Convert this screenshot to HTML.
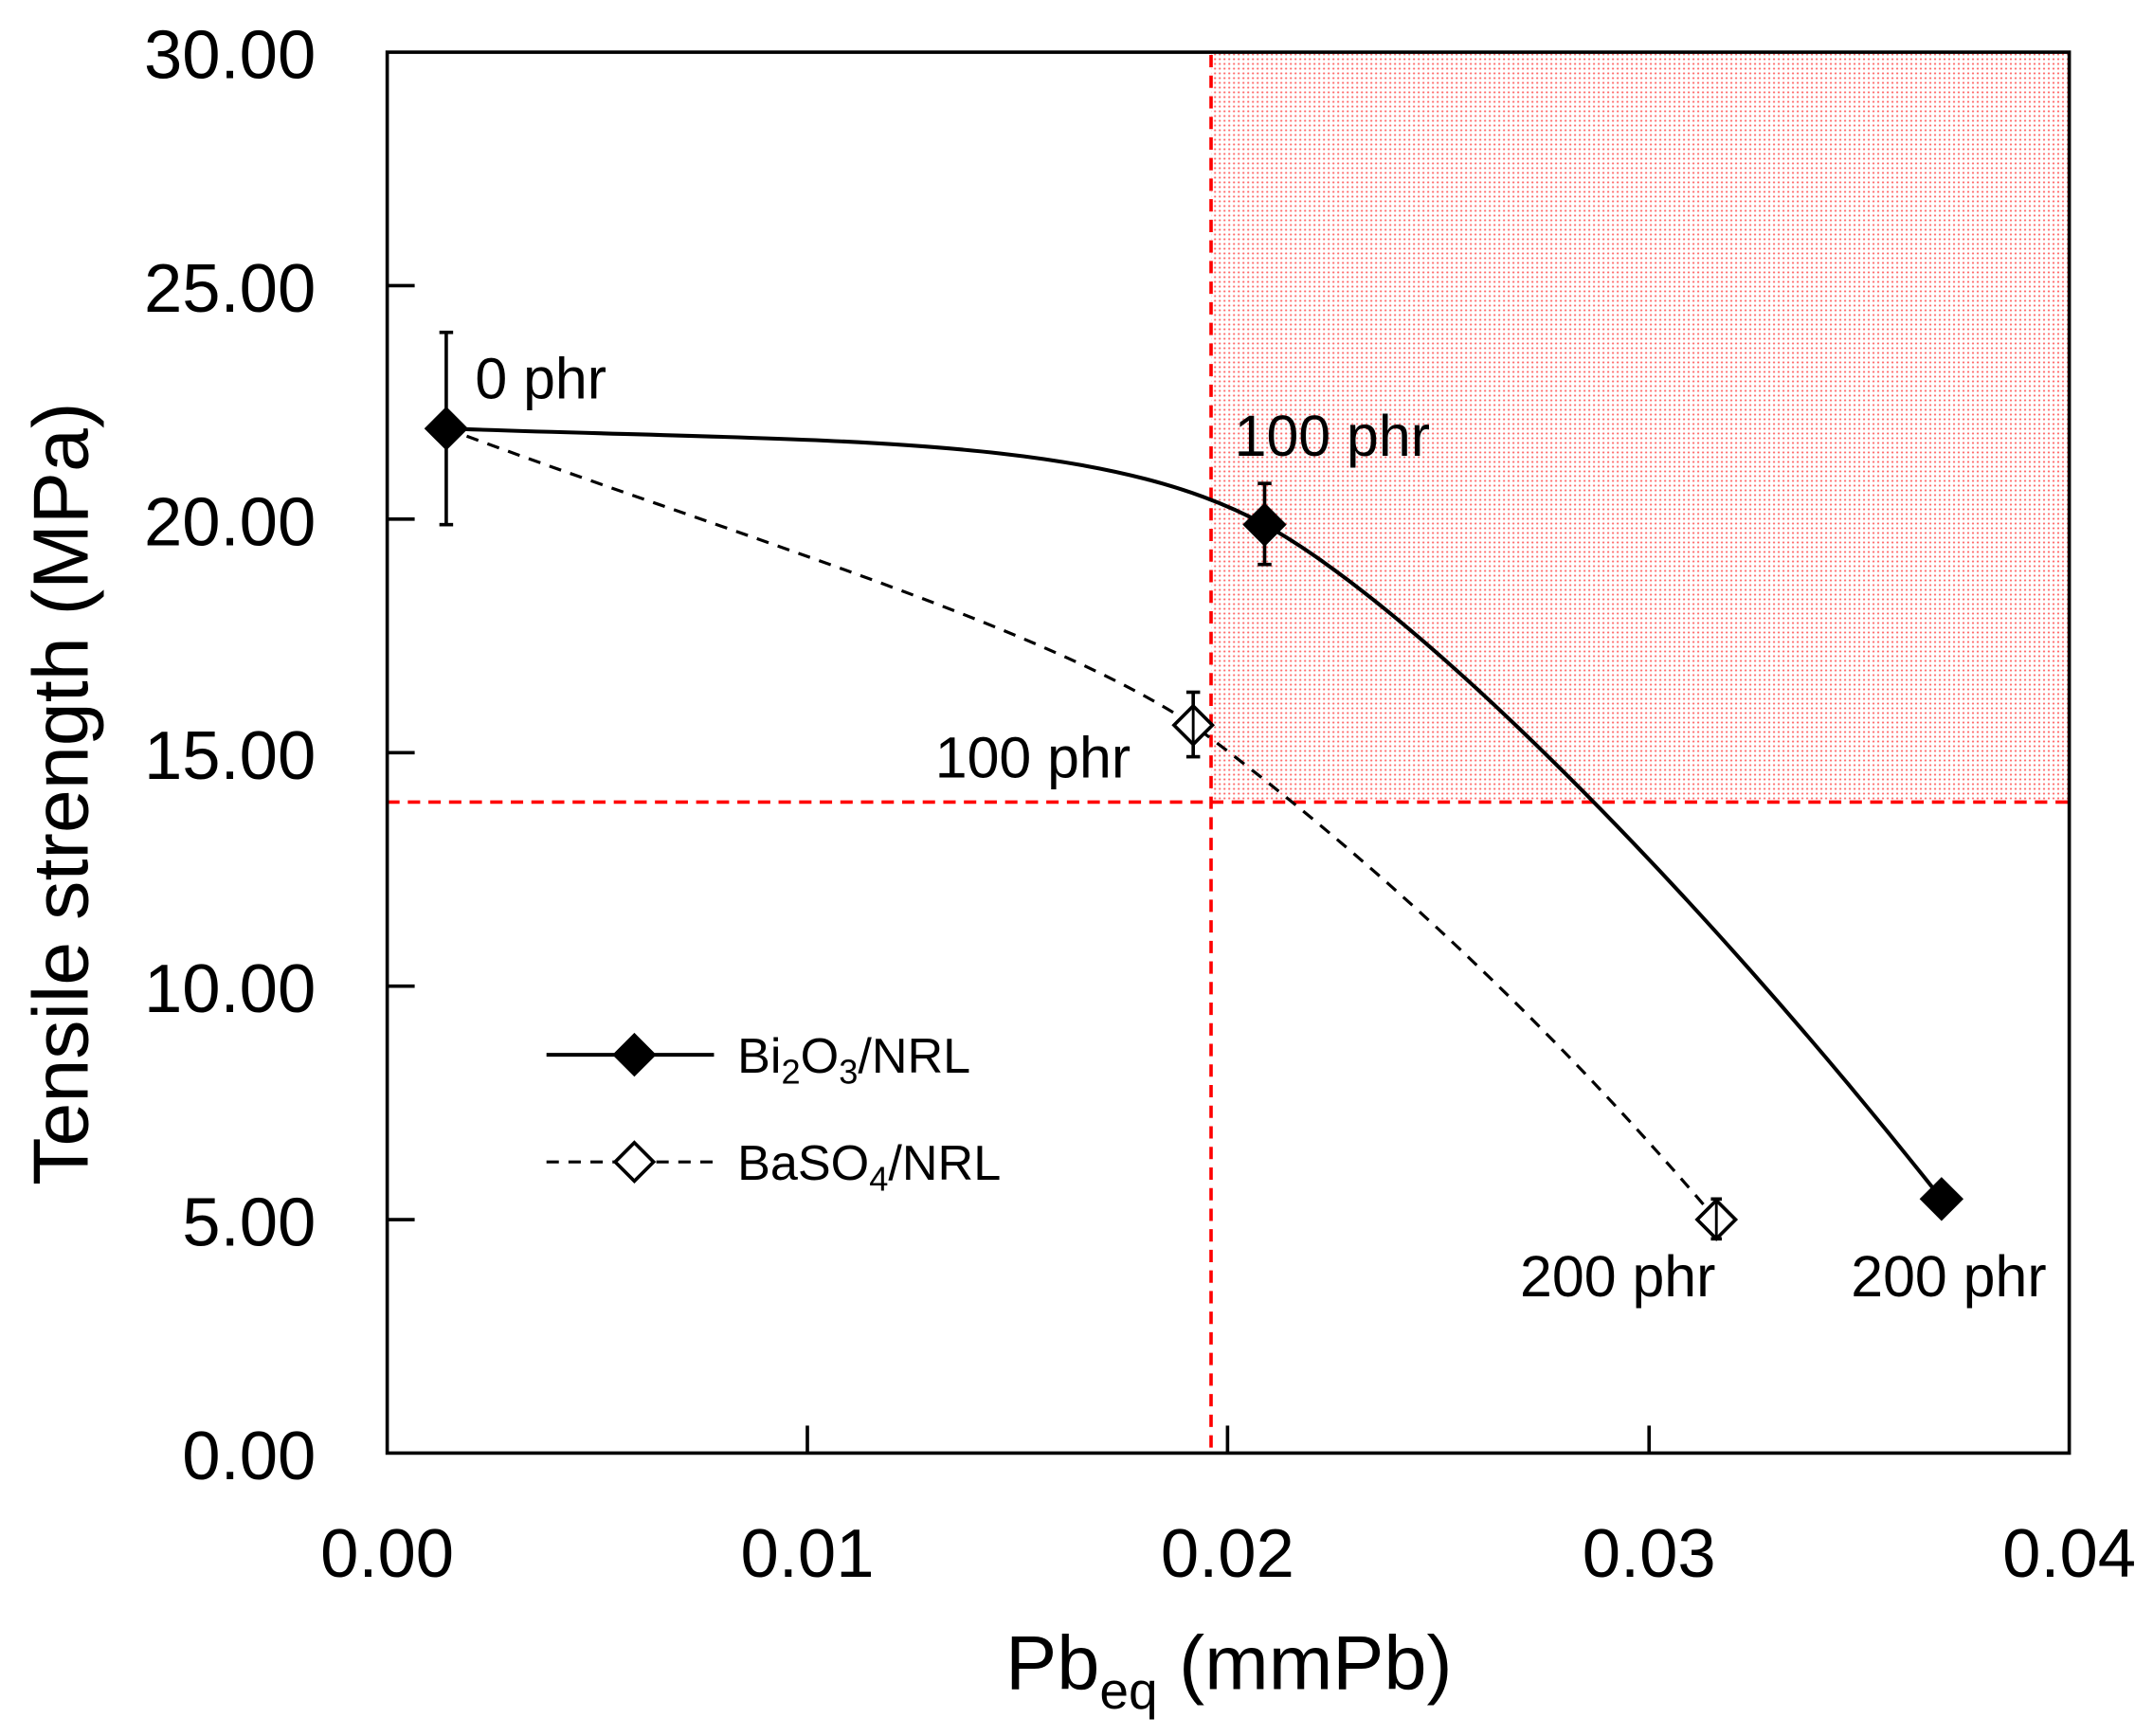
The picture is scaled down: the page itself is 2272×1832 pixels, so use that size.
<!DOCTYPE html>
<html><head><meta charset="utf-8"><style>
html,body{margin:0;padding:0;background:#fff;}
svg{display:block;}
text{font-family:"Liberation Sans",sans-serif;fill:#000;}
</style></head><body>
<svg width="2272" height="1832" viewBox="0 0 1568 1264" preserveAspectRatio="none" xmlns="http://www.w3.org/2000/svg">
<defs>
<pattern id="dots" patternUnits="userSpaceOnUse" width="3.45" height="3.45">
<rect width="3.45" height="3.45" fill="#fff"/>
<circle cx="1.7" cy="1.7" r="0.75" fill="#f66"/>
</pattern>
</defs>
<rect x="0" y="0" width="1568" height="1264" fill="#fff"/>
<rect x="882" y="38" width="625" height="546" fill="url(#dots)"/>
<line x1="882" y1="40" x2="882" y2="1058" stroke="#f00" stroke-width="2.5" stroke-dasharray="9,6"/>
<line x1="282" y1="584" x2="1507" y2="584" stroke="#f00" stroke-width="2.5" stroke-dasharray="9,6"/>
<rect x="282" y="38" width="1225" height="1020" fill="none" stroke="#000" stroke-width="2.5"/>
<g stroke="#000" stroke-width="2.5">
<line x1="282" y1="208" x2="302" y2="208"/>
<line x1="282" y1="378" x2="302" y2="378"/>
<line x1="282" y1="548" x2="302" y2="548"/>
<line x1="282" y1="718" x2="302" y2="718"/>
<line x1="282" y1="888" x2="302" y2="888"/>
<line x1="588" y1="1058" x2="588" y2="1038"/>
<line x1="894" y1="1058" x2="894" y2="1038"/>
<line x1="1201" y1="1058" x2="1201" y2="1038"/>
</g>
<g font-size="50" text-anchor="end">
<text x="230" y="57">30.00</text>
<text x="230" y="227">25.00</text>
<text x="230" y="397">20.00</text>
<text x="230" y="567">15.00</text>
<text x="230" y="737">10.00</text>
<text x="230" y="907">5.00</text>
<text x="230" y="1077">0.00</text>
</g>
<g font-size="50" text-anchor="middle">
<text x="282" y="1148">0.00</text>
<text x="588" y="1148">0.01</text>
<text x="894" y="1148">0.02</text>
<text x="1201" y="1148">0.03</text>
<text x="1507" y="1148">0.04</text>
</g>
<text x="895" y="1230" font-size="56" text-anchor="middle">Pb<tspan font-size="38" dy="14">eq</tspan><tspan dy="-14"> (mmPb)</tspan></text>
<text transform="translate(64,578) rotate(-90)" font-size="57" text-anchor="middle">Tensile strength (MPa)</text>
<path d="M325,312 C600,322 800,315 921,382 C1030,442 1230,640 1414,873" fill="none" stroke="#000" stroke-width="2.8"/>
<path d="M325,312 C520,385 760,455 869,528 C1020,640 1150,770 1250,888" fill="none" stroke="#000" stroke-width="2.2" stroke-dasharray="9,7"/>
<g stroke="#000" stroke-width="2.5">
<line x1="325" y1="242" x2="325" y2="382"/><line x1="320" y1="242" x2="330" y2="242"/><line x1="320" y1="382" x2="330" y2="382"/>
<line x1="921" y1="352" x2="921" y2="411"/><line x1="916" y1="352" x2="926" y2="352"/><line x1="916" y1="411" x2="926" y2="411"/>
<line x1="869" y1="504" x2="869" y2="551"/><line x1="864" y1="504" x2="874" y2="504"/><line x1="864" y1="551" x2="874" y2="551"/>
<line x1="1250" y1="873" x2="1250" y2="902"/><line x1="1246" y1="873" x2="1254" y2="873"/><line x1="1246" y1="902" x2="1254" y2="902"/>
</g>
<polygon points="325,296 341,312 325,328 309,312" fill="#000"/>
<polygon points="921,366 937,382 921,398 905,382" fill="#000"/>
<polygon points="1414,857 1430,873 1414,889 1398,873" fill="#000"/>
<polygon points="869,514 883,528 869,542 855,528" fill="#fff" stroke="#000" stroke-width="2.5"/>
<polygon points="1250,874 1264,888 1250,902 1236,888" fill="#fff" stroke="#000" stroke-width="2.5"/>
<line x1="869" y1="504" x2="869" y2="551" stroke="#000" stroke-width="2"/>
<line x1="1250" y1="873" x2="1250" y2="902" stroke="#000" stroke-width="2"/>
<g font-size="42">
<text x="346" y="290">0 phr</text>
<text x="899" y="332">100 phr</text>
<text x="681" y="566">100 phr</text>
<text x="1107" y="944">200 phr</text>
<text x="1348" y="944">200 phr</text>
</g>
<line x1="398" y1="768" x2="520" y2="768" stroke="#000" stroke-width="2.8"/>
<polygon points="462,752 478,768 462,784 446,768" fill="#000"/>
<text x="537" y="781" font-size="36">Bi<tspan font-size="25" dy="8">2</tspan><tspan dy="-8">O</tspan><tspan font-size="25" dy="8">3</tspan><tspan dy="-8">/NRL</tspan></text>
<line x1="398" y1="846" x2="520" y2="846" stroke="#000" stroke-width="2.2" stroke-dasharray="9,7"/>
<polygon points="462,832 476,846 462,860 448,846" fill="#fff" stroke="#000" stroke-width="2.5"/>
<text x="537" y="859" font-size="36">BaSO<tspan font-size="25" dy="8">4</tspan><tspan dy="-8">/NRL</tspan></text>
</svg>
</body></html>
